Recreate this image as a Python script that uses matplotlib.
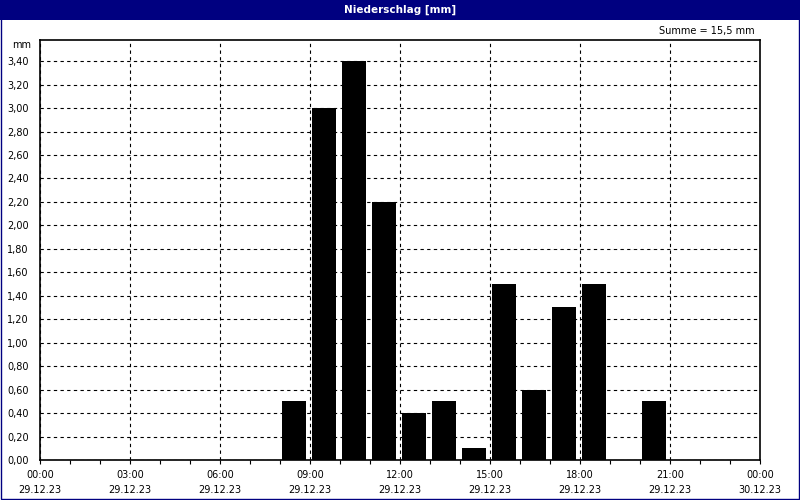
import numpy as np
import matplotlib.pyplot as plt
from matplotlib.patches import Rectangle

plt.rcParams['font.family'] = ['DejaVu Sans']

# Stundenwerte Niederschlag (mm), Beginn der Stunde
stunden = [8, 9, 10, 11, 12, 13, 14, 15, 16, 17, 18, 20]
niederschlag = [0.5, 3.0, 3.4, 2.2, 0.4, 0.5, 0.1, 1.5, 0.6, 1.3, 1.5, 0.5]
summe_text = 'Summe = 15,5 mm'

x_ticks = [0, 3, 6, 9, 12, 15, 18, 21, 24]
x_labels = ['00:00\n29.12.23', '03:00\n29.12.23', '06:00\n29.12.23', '09:00\n29.12.23',
            '12:00\n29.12.23', '15:00\n29.12.23', '18:00\n29.12.23', '21:00\n29.12.23',
            '00:00\n30.12.23']
y_ticks = np.arange(0, 3.41, 0.2)
y_labels = [f'{v:.2f}'.replace('.', ',') for v in y_ticks]

navy = '#000080'

fig = plt.figure(figsize=(8, 5), dpi=100, facecolor='white')
ax = fig.add_axes([0.05, 0.08, 0.9, 0.84])

ax.bar(np.array(stunden) + 0.07, niederschlag, width=0.8, align='edge',
       color='black', edgecolor='black', linewidth=0, zorder=3)

ax.set_xlim(0, 24)
ax.set_ylim(0, 3.58)
ax.set_xticks(x_ticks)
ax.set_xticklabels(x_labels, fontsize=7, linespacing=1.6)
ax.set_xticks(range(0, 25), minor=True)
ax.set_yticks(y_ticks)
ax.set_yticklabels(y_labels, fontsize=7)

ax.tick_params(axis='x', which='both', direction='out', length=3, width=0.8, pad=4)
ax.tick_params(axis='y', which='both', length=0, pad=8)
ax.grid(True, axis='both', which='major', color='black', linestyle=(0, (3, 3)),
        linewidth=0.8, zorder=1)
for s in ax.spines.values():
    s.set_color('black')
    s.set_linewidth(1.2)
    s.set_zorder(4)

# Titelbalken
fig.patches.append(Rectangle((0, 0.96), 1, 0.04, transform=fig.transFigure,
                             facecolor=navy, edgecolor='none', zorder=0))
fig.patches.append(Rectangle((0.001, 0.002), 0.998, 0.997, transform=fig.transFigure,
                             facecolor='none', edgecolor=navy, linewidth=1.0, zorder=5))
fig.text(0.5, 0.981, 'Niederschlag [mm]', color='white', fontsize=7.5,
         fontweight='bold', ha='center', va='center')
fig.text(0.943, 0.938, summe_text, fontsize=7, ha='right', va='center')
fig.text(0.039, 0.911, 'mm', fontsize=7, ha='right', va='center')

fig.savefig('out.png', dpi=100, facecolor=fig.get_facecolor())
